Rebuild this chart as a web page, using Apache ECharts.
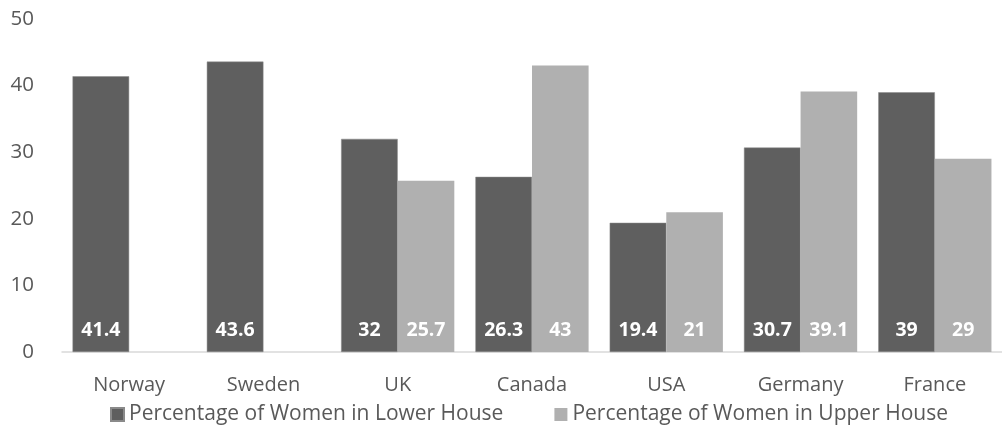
<!DOCTYPE html>
<html><head><meta charset="utf-8">
<script src="https://cdn.jsdelivr.net/npm/echarts@6/dist/echarts.min.js"></script>
<style>html,body{margin:0;padding:0;background:#fff}#c{width:1002px;height:425px}</style>
</head><body><div id="c"></div>
<script>
var categories = ["Norway","Sweden","UK","Canada","USA","Germany","France"];
var lowerHouse = [41.4,43.6,32,26.3,19.4,30.7,39];
var upperHouse = [null,null,25.7,43,21,39.1,29];
var seriesNames = ["Percentage of Women in Lower House","Percentage of Women in Upper House"];

var FONT = "Open Sans";
var chart = echarts.init(document.getElementById('c'));
var labelCfg = {show:true, position:'insideBottom', distance:12, color:'#fff', fontWeight:'bold', fontSize:19.5, fontFamily:FONT,
  formatter:function(p){return p.value==null?'':String(p.value);}};
chart.setOption({
  animation:false,
  textStyle:{fontFamily:FONT},
  grid:{left:62, right:-8, top:19, bottom:73, containLabel:false},
  legend:{bottom:-5, left:105, itemWidth:13, itemHeight:13, itemGap:51, icon:'rect',
    textStyle:{color:'#595959', fontSize:21, fontFamily:FONT}, data:seriesNames},
  xAxis:{type:'category', data:categories,
    axisLine:{lineStyle:{color:'#d9d9d9', width:1.5}}, axisTick:{show:false},
    axisLabel:{color:'#595959', fontSize:20, fontFamily:FONT, margin:23}},
  yAxis:{type:'value', min:0, max:50, interval:10,
    splitLine:{show:false}, axisLine:{show:false}, axisTick:{show:false},
    axisLabel:{color:'#595959', fontSize:20.5, fontFamily:FONT, margin:28}},
  series:[
    {name:seriesNames[0], type:'bar', data:lowerHouse, barGap:'0%', barCategoryGap:'15.7%',
      itemStyle:{color:'#5f5f5f', borderColor:'#8a8a8a', borderWidth:0.5}, label:labelCfg},
    {name:seriesNames[1], type:'bar', data:upperHouse,
      itemStyle:{color:'#b0b0b0'}, label:labelCfg}
  ]
});
</script></body></html>
